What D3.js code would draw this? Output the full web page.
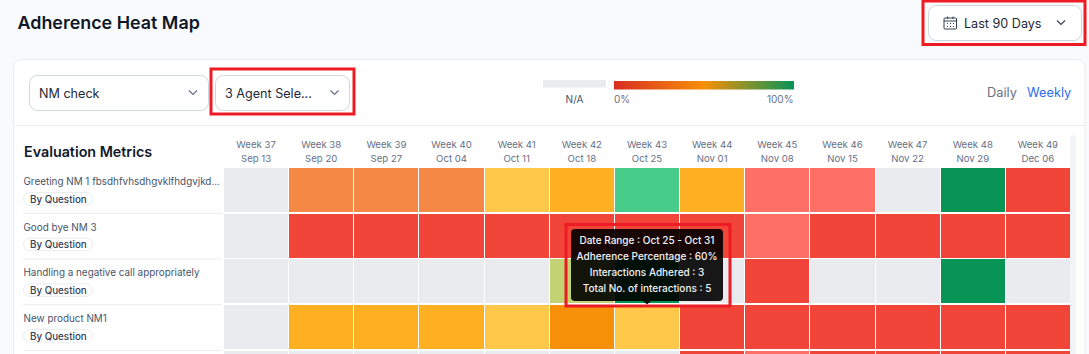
<!DOCTYPE html>
<html>
<head>
<meta charset="utf-8">
<script src="https://cdn.jsdelivr.net/npm/d3@7"></script>
<style>
    html, body {margin: 0; padding: 0; background: #f9fafb; overflow: hidden;}
    svg {display: block; font-family: Inter, "Noto Sans", sans-serif;}
</style>
</head>
<body>
<div id="chart"></div>
<script>
const weeks = ["Week 37", "Week 38", "Week 39", "Week 40", "Week 41", "Week 42", "Week 43", "Week 44", "Week 45", "Week 46", "Week 47", "Week 48", "Week 49"];
const dates = ["Sep 13", "Sep 20", "Sep 27", "Oct 04", "Oct 11", "Oct 18", "Oct 25", "Nov 01", "Nov 08", "Nov 15", "Nov 22", "Nov 29", "Dec 06"];
// the fifth row is cut off by the picture, its name can't be read
const metrics = ["Greeting NM 1 fbsdhfvhsdhgvklfhdgvjkd...", "Good bye NM 3", "Handling a negative call appropriately", "New product NM1", ""];

// adherence % per week, null = N/A
const greeting = [null, 25, 25, 25, 60, 50, 80, 50, 15, 15, null, 100, 5];
const goodBye = [null, 5, 5, 5, 5, 5, 5, 5, 15, 5, 5, 5, 5];
const negativeCall = [null, null, null, null, null, 70, 100, null, 5, null, null, 100, null];
const newProduct = [null, 50, 50, 50, 60, 35, 60, 5, 5, 5, 5, 5, 5];
const lastRow = [null, null, null, null, null, null, null, 5, 15, 5, 5, 5, 5];
const rows = [greeting, goodBye, negativeCall, newProduct, lastRow];

const tooltipLines = ["Date Range : Oct 25 - Oct 31", "Adherence Percentage : 60%", "Interactions Adhered : 3", "Total No. of interactions : 5"];

const width = 1089, height = 354;

const svg = d3.select("#chart").append("svg")
    .attr("width", width)
    .attr("height", height);

// card
svg.append("rect")
    .attr("x", 13.5).attr("y", 59.5)
    .attr("width", 1071.5).attr("height", 320)
    .attr("rx", 8)
    .attr("fill", "#fff")
    .attr("stroke", "#eaecf0");

svg.append("line")
    .attr("x1", 14).attr("x2", 1085)
    .attr("y1", 125.5).attr("y2", 125.5)
    .attr("stroke", "#eaecf0");

svg.append("text")
    .attr("x", 17.5).attr("y", 29)
    .attr("font-size", 17.9).attr("font-weight", 600)
    .attr("fill", "#101828")
    .text("Adherence Heat Map");

function chevron(cx, cy, color) {
    svg.append("path")
        .attr("d", "M" + (cx - 4) + "," + (cy - 2) + "L" + cx + "," + (cy + 2) + "L" + (cx + 4) + "," + (cy - 2))
        .attr("fill", "none")
        .attr("stroke", color)
        .attr("stroke-width", 1.2);
}

function dropdown(x, y, w, h, label, labelX, chevronX, chevronColor) {
    svg.append("rect")
        .attr("x", x).attr("y", y)
        .attr("width", w).attr("height", h)
        .attr("rx", 8)
        .attr("fill", "#fff")
        .attr("stroke", "#d0d5dd");
    svg.append("text")
        .attr("x", labelX).attr("y", y + h / 2 + 4.8)
        .attr("font-size", 12.6)
        .attr("fill", "#1d2939")
        .text(label);
    chevron(chevronX, y + h / 2 - 0.5, chevronColor);
}

dropdown(29.5, 75.5, 179, 35, "NM check", 39, 193, "#667085");
dropdown(215.5, 75.5, 134, 35, "3 Agent Sele...", 225, 334.5, "#667085");
dropdown(928.5, 5.5, 153, 35, "Last 90 Days", 964, 1061, "#344054");

// calendar icon
const cal = svg.append("g")
    .attr("transform", "translate(944,16.5)")
    .attr("fill", "none")
    .attr("stroke", "#344054");
cal.append("rect").attr("x", 0).attr("y", 1.5).attr("width", 12.5).attr("height", 11).attr("rx", 1);
cal.append("path").attr("d", "M0,4.5H12.5M3.5,0V2.5M9,0V2.5");
cal.append("path").attr("d", "M3,7H4M6,7H7M9,7H10M3,10H4M6,10H7M9,10H10").attr("stroke-width", 1);

// legend
const grad = svg.append("defs").append("linearGradient").attr("id", "legend-grad");
[["0%", "#d92d20"], ["50%", "#f79009"], ["100%", "#079455"]].forEach(function (s) {
    grad.append("stop").attr("offset", s[0]).attr("stop-color", s[1]);
});

svg.append("rect")
    .attr("x", 543).attr("y", 80)
    .attr("width", 63).attr("height", 7.5)
    .attr("fill", "#eaebef");
svg.append("rect")
    .attr("x", 614).attr("y", 81)
    .attr("width", 180).attr("height", 8.5)
    .attr("fill", "url(#legend-grad)");

const legendText = svg.append("g").attr("font-size", 10);
legendText.append("text").attr("x", 574.5).attr("y", 103).attr("text-anchor", "middle").attr("fill", "#475467").text("N/A");
legendText.append("text").attr("x", 614).attr("y", 103).attr("fill", "#667085").text("0%");
legendText.append("text").attr("x", 793.5).attr("y", 103).attr("text-anchor", "end").attr("fill", "#667085").text("100%");

svg.append("text").attr("x", 987).attr("y", 97).attr("font-size", 12.8).attr("fill", "#667085").text("Daily");
svg.append("text").attr("x", 1027).attr("y", 97).attr("font-size", 12.8).attr("fill", "#2e6bf0").text("Weekly");

// scales
const x = d3.scaleBand().domain(d3.range(weeks.length)).range([223.5, 1070.5]);
const y = d3.scaleBand().domain(metrics).range([168, 168 + 45.7 * metrics.length]);

const color = d3.scaleThreshold()
    .domain([10, 20, 30, 40, 55, 65, 75, 90])
    .range(["#f2453a", "#fe6f66", "#f58845", "#f79009", "#feb022", "#ffc84b", "#c3d272", "#47cd89", "#079455"]);

// week headers, two axes so each line is a tick label
function header(labels, yPos) {
    const g = svg.append("g")
        .attr("transform", "translate(0," + yPos + ")")
        .call(d3.axisTop(x).tickSize(0).tickPadding(0).tickFormat(function (d) {
            return labels[d];
        }));
    g.select(".domain").remove();
    g.selectAll("text")
        .attr("font-family", "Inter, sans-serif")
        .attr("font-size", 9.6)
        .attr("fill", "#667085");
}
header(weeks, 147.5);
header(dates, 161.5);

svg.append("text")
    .attr("x", 24).attr("y", 157)
    .attr("font-size", 14.3).attr("font-weight", 600)
    .attr("fill", "#101828")
    .text("Evaluation Metrics");

// scrollbar track
svg.append("rect")
    .attr("x", 1070).attr("y", 135)
    .attr("width", 6).attr("height", 230)
    .attr("rx", 3)
    .attr("fill", "#f2f4f7");

// cells
svg.selectAll(".row")
    .data(rows)
    .enter().append("g")
    .attr("class", "row")
    .attr("transform", function (d, i) {
        return "translate(0," + y(metrics[i]) + ")";
    })
    .selectAll("rect")
    .data(function (d) {
        return d;
    })
    .enter().append("rect")
    .attr("x", function (d, i) {
        return x(i) + 0.5;
    })
    .attr("width", x.bandwidth() - 1)
    .attr("height", 44)
    .attr("shape-rendering", "crispEdges")
    .attr("fill", function (d) {
        return d === null ? "#eaebef" : color(d);
    });

// row labels
const label = svg.selectAll(".metric")
    .data(metrics.filter(function (d) {
        return d !== "";
    }))
    .enter().append("g")
    .attr("class", "metric")
    .attr("transform", function (d) {
        return "translate(23," + y(d) + ")";
    });

label.append("text")
    .attr("x", 0.5).attr("y", 17)
    .attr("font-size", 9.9)
    .attr("fill", "#475467")
    .text(function (d) {
        return d;
    });

label.append("rect")
    .attr("x", 0.5).attr("y", 24.5)
    .attr("width", 69).attr("height", 12.5)
    .attr("rx", 6.2)
    .attr("fill", "#fff")
    .attr("stroke", "#eaecf0");

label.append("text")
    .attr("x", 7).attr("y", 34.5)
    .attr("font-size", 9.8).attr("font-weight", 500)
    .attr("fill", "#344054")
    .text("By Question");

label.append("line")
    .attr("x1", 0).attr("x2", 199)
    .attr("y1", 45.3).attr("y2", 45.3)
    .attr("stroke", "#eaecf0");

// tooltip
const tipX = x(6) + x.bandwidth() / 2;
const tip = svg.append("g");
tip.append("path")
    .attr("d", "M" + (tipX - 4) + ",301L" + tipX + ",304.5L" + (tipX + 4) + ",301Z")
    .attr("fill", "#000")
    .attr("fill-opacity", 0.9);
tip.append("rect")
    .attr("x", 571).attr("y", 229)
    .attr("width", 152).attr("height", 72)
    .attr("rx", 4)
    .attr("fill", "#000")
    .attr("fill-opacity", 0.9);
tip.selectAll("text")
    .data(tooltipLines)
    .enter().append("text")
    .attr("x", tipX)
    .attr("y", function (d, i) {
        return 243.5 + i * 16.3;
    })
    .attr("text-anchor", "middle")
    .attr("font-size", 10).attr("font-weight", 500)
    .attr("fill", "#f2f4f7")
    .text(function (d) {
        return d;
    });

// red annotation boxes
[[211, 69, 143, 45], [923, 1, 162, 43.5], [566, 224.5, 164, 81.5]].forEach(function (b) {
    svg.append("rect")
        .attr("x", b[0]).attr("y", b[1])
        .attr("width", b[2]).attr("height", b[3])
        .attr("fill", "none")
        .attr("stroke", "#ed1c24")
        .attr("stroke-width", 3);
});
</script>
</body>
</html>
